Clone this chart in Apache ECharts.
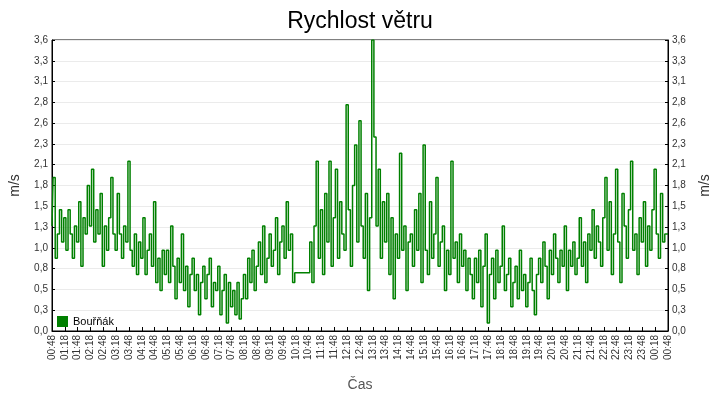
<!DOCTYPE html>
<html><head><meta charset="utf-8">
<script src="https://cdn.jsdelivr.net/npm/echarts@6/dist/echarts.min.js"></script>
<style>html,body{margin:0;padding:0;background:#fff}#c{width:720px;height:400px}</style>
</head><body><div id="c"></div>
<script>
const seriesName = 'Bouřňák';
const startMinute = 48, stepMinutes = 5, pointCount = 289;
const categories = [];
for (let i = 0; i < pointCount; i++) {
  const m = (startMinute + i * stepMinutes) % 1440;
  categories.push(String(Math.floor(m / 60)).padStart(2, '0') + ':' + String(m % 60).padStart(2, '0'));
}
const windSpeed = [
1.3,1.9,0.9,1.2,1.5,1.1, 1.4,1.0,1.5,1.2,0.9,1.3, 1.1,1.6,0.8,1.4,1.2,1.8,
1.3,2.0,1.1,1.5,1.2,1.7, 0.8,1.3,1.0,1.4,1.9,1.2, 1.0,1.7,1.2,0.9,1.3,1.1,
2.1,1.0,0.8,1.2,0.7,1.1, 0.9,1.4,0.7,1.0,1.2,0.8, 1.6,0.6,0.9,0.5,1.0,0.7,
1.0,0.6,1.3,0.8,0.4,0.9, 0.6,1.2,0.5,0.8,0.3,0.7, 0.9,0.5,0.7,0.2,0.6,0.8,
0.4,0.7,0.9,0.3,0.6,0.5, 0.8,0.2,0.5,0.7,0.1,0.6, 0.3,0.5,0.2,0.6,0.15,0.4,
0.7,0.4,0.9,0.6,1.0,0.5, 0.8,1.1,0.7,1.3,0.6,0.9, 1.2,0.8,1.0,1.4,0.7,1.1,
1.3,0.9,1.6,1.0,1.2,0.6, 0.72,0.72,0.72,0.72,0.72,0.72, 0.72,1.1,0.6,1.3,2.1,0.9,
1.5,0.7,1.7,1.1,2.1,0.8, 1.4,2.0,0.9,1.6,1.2,1.0, 2.8,1.5,0.8,1.8,2.3,1.1,
2.6,1.3,0.9,1.7,0.5,1.4, 3.6,2.4,1.3,2.0,0.9,1.6, 1.1,1.7,0.7,1.4,0.4,1.2,
0.9,2.2,1.0,1.3,0.5,1.1, 1.2,0.8,1.5,1.0,1.7,0.6, 2.3,1.0,0.7,1.6,0.9,1.2,
1.9,0.8,1.1,1.3,0.5,1.0, 0.7,2.1,0.9,1.1,0.6,1.2, 0.8,1.0,0.5,0.9,0.7,0.4,
0.9,0.6,1.0,0.3,0.8,1.2, 0.1,0.7,0.9,0.4,1.0,0.6, 0.8,1.3,0.5,0.7,0.9,0.3,
0.6,0.8,0.4,1.0,0.5,0.7, 0.3,0.6,0.9,0.5,0.2,0.7, 0.9,0.6,1.1,0.8,0.4,1.0,
0.7,1.2,0.9,0.6,1.0,0.8, 1.3,0.5,1.0,0.8,1.1,0.7, 0.9,1.4,0.8,1.1,0.6,1.2,
1.0,1.5,0.9,1.3,1.1,0.8, 1.4,1.9,1.0,1.6,0.7,1.2, 2.0,1.1,0.6,1.7,1.3,0.9,
1.5,2.1,1.0,1.2,0.7,1.4, 1.1,1.6,0.8,1.3,1.0,1.5, 2.0,1.2,0.9,1.7,1.1,1.2,
1.2
];
const fmt = v => v.toFixed(1).replace('.', ',');
const yAx = (pos) => ({
  type: 'value', position: pos, min: 0, max: 3.6, interval: 3.6 / 14,
  name: 'm/s', nameLocation: 'middle', nameGap: 30, nameRotate: 90,
  nameTextStyle: { fontSize: 14, color: '#333', fontFamily: 'Arial, Liberation Sans' },
  axisLine: { show: true, lineStyle: { color: '#000' } },
  axisTick: { show: true, length: 3, inside: true, lineStyle: { color: '#000' } },
  axisLabel: { formatter: fmt, fontSize: 10, color: '#333', margin: 4, fontFamily: 'Arial, Liberation Sans' },
  splitLine: { show: pos === 'left', lineStyle: { color: '#ebebeb' } }
});
const chart = echarts.init(document.getElementById('c'));
chart.setOption({
  animation: false,
  backgroundColor: '#fff',
  title: { text: 'Rychlost větru', left: 'center', top: 5,
    textStyle: { fontSize: 23, fontWeight: 'normal', color: '#000', fontFamily: 'Arial, Liberation Sans' } },
  grid: { left: 47, right: 52, top: 40, bottom: 69, show: true, borderColor: '#000', borderWidth: 1 },
  legend: { left: 52, top: 311, itemWidth: 11, itemHeight: 11, icon: 'rect',
    textStyle: { fontSize: 11, color: '#000', fontFamily: 'Arial, Liberation Sans' }, data: [seriesName] },
  xAxis: {
    type: 'category', data: categories, boundaryGap: false,
    name: 'Čas', nameLocation: 'middle', nameGap: 47,
    nameTextStyle: { fontSize: 14, color: '#555', fontFamily: 'Arial, Liberation Sans' },
    axisLine: { lineStyle: { color: '#000' } },
    axisTick: { interval: 5, inside: true, length: 4, lineStyle: { color: '#000' } },
    axisLabel: { interval: 5, rotate: 90, fontSize: 10, color: '#333', margin: 4, fontFamily: 'Arial, Liberation Sans' }
  },
  yAxis: [yAx('left'), yAx('right')],
  series: [{
    name: seriesName, type: 'line', step: 'middle', data: windSpeed,
    symbol: 'none', itemStyle: { color: '#008000' }, lineStyle: { color: '#008000', width: 1.5 }
  }]
});
</script></body></html>
